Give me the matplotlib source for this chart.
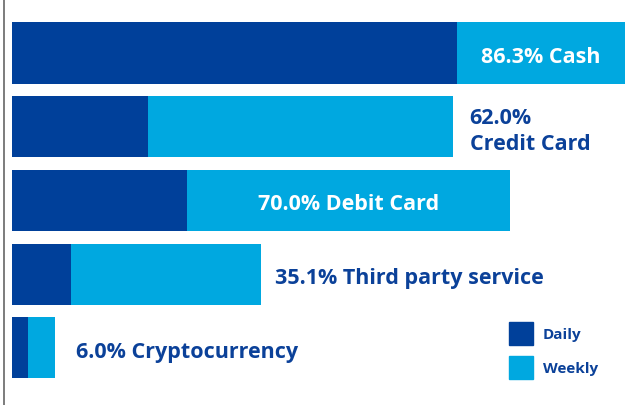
import matplotlib.pyplot as plt
from matplotlib.patches import Patch
from matplotlib.lines import Line2D
import numpy as np

# payment methods, share of respondents (%)
methods = ['Cash', 'Credit Card', 'Debit Card', 'Third party service', 'Cryptocurrency']
totals = [86.3, 62.0, 70.0, 35.1, 6.0]
daily = [62.6, 19.1, 24.6, 8.3, 2.25]
weekly = [t - d for t, d in zip(totals, daily)]
labels = ['86.3% Cash', '62.0%\nCredit Card', '70.0% Debit Card',
          '35.1% Third party service', '6.0% Cryptocurrency']
inside = [True, False, True, False, False]
pad = [0, 17, 0, 14, 21]

dark = '#00409A'
light = '#00A8E0'
txt = '#0B4199'

plt.rcParams['font.family'] = ['Open Sans', 'DejaVu Sans']

fig = plt.figure(figsize=(6.26, 4.06), dpi=100)
ax = fig.add_axes([12 / 626, 0, 614 / 626, 1])
y = np.arange(len(methods))

ax.barh(y, daily, height=0.83, color=dark)
ax.barh(y, weekly, left=daily, height=0.83, color=light)

for i in range(len(methods)):
    if inside[i]:
        ax.annotate(labels[i], xy=(daily[i] + weekly[i] / 2, y[i]), xytext=(0, -2.5),
                    textcoords='offset points', color='white',
                    fontsize=15.5, fontweight='bold', ha='center', va='center')
    else:
        ax.annotate(labels[i], xy=(totals[i], y[i]), xytext=(pad[i] * 0.72, -2.5),
                    textcoords='offset points', color=txt, fontsize=15.5,
                    fontweight='bold', ha='left', va='center', linespacing=1.3)

ax.set_xlim(0, 614 / 7.108)
ax.set_ylim(4.776, -0.733)
ax.axis('off')

# thin grey rule on the left
fig.add_artist(Line2D([3.5 / 626, 3.5 / 626], [0, 1], color='#666666', lw=1.2))

handles = [Patch(color=dark, label='Daily'), Patch(color=light, label='Weekly')]
fig.legend(handles=handles, loc='upper left', bbox_to_anchor=(509 / 626, 1 - 323 / 406),
           frameon=False, borderpad=0, borderaxespad=0,
           handlelength=1.57, handleheight=1.95, labelspacing=0.7, handletextpad=0.65,
           prop={'weight': 'bold', 'size': 11}, labelcolor=txt)

fig.savefig('out.png', dpi=100)
